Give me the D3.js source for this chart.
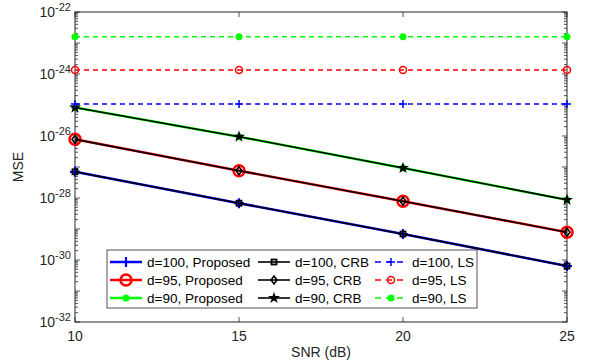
<!DOCTYPE html>
<html>
<head>
<meta charset="utf-8">
<script src="https://cdn.jsdelivr.net/npm/d3@7"></script>
<style>
  body { margin: 0; background: #fff; }
  svg { display: block; font-family: "Liberation Sans", Arial, sans-serif; }
</style>
</head>
<body>
<svg id="chart" width="590" height="364"></svg>
<script>
// values
const snr = [10, 15, 20, 25];
const proposed100 = [7.0e-28, 6.8e-29, 6.9e-30, 6.4e-31];
const proposed95 = [7.8e-27, 7.6e-28, 7.9e-29, 7.9e-30];
const proposed90 = [8.3e-26, 9.5e-27, 9.3e-28, 8.7e-29];
const crb100 = [7.0e-28, 6.8e-29, 6.9e-30, 6.4e-31];
const crb95 = [7.8e-27, 7.6e-28, 7.9e-29, 7.9e-30];
const crb90 = [8.3e-26, 9.5e-27, 9.3e-28, 8.7e-29];
const ls100 = [1.07e-25, 1.07e-25, 1.07e-25, 1.07e-25];
const ls95 = [1.35e-24, 1.35e-24, 1.35e-24, 1.35e-24];
const ls90 = [1.6e-23, 1.6e-23, 1.6e-23, 1.6e-23];
const yExponents = [-22, -24, -26, -28, -30, -32];
const xTicks = [10, 15, 20, 25];

const series = [
  {name: 'd=100, Proposed', values: proposed100, color: '#0000ff', dash: null, marker: 'plus', width: 2.5},
  {name: 'd=95, Proposed', values: proposed95, color: '#ff0000', dash: null, marker: 'circleBig', width: 2.5},
  {name: 'd=90, Proposed', values: proposed90, color: '#00ff00', dash: null, marker: 'dot', width: 2.5},
  {name: 'd=100, CRB', values: crb100, color: '#000000', dash: null, marker: 'square', width: 1.6},
  {name: 'd=95, CRB', values: crb95, color: '#000000', dash: null, marker: 'diamond', width: 1.6},
  {name: 'd=90, CRB', values: crb90, color: '#000000', dash: null, marker: 'star', width: 1.6},
  {name: 'd=100, LS', values: ls100, color: '#0000ff', dash: '5,4', marker: 'plusSmall', width: 1.5},
  {name: 'd=95, LS', values: ls95, color: '#ff0000', dash: '5,4', marker: 'circle', width: 1.5},
  {name: 'd=90, LS', values: ls90, color: '#00ff00', dash: '5,4', marker: 'dot', width: 1.5}
];

const margin = {top: 12, right: 23, bottom: 42, left: 75};
const width = 590, height = 364;
const svg = d3.select('#chart');

const x = d3.scaleLinear().domain([10, 25]).range([margin.left, width - margin.right]);
const y = d3.scaleLog().domain([1e-32, 1e-22]).range([height - margin.bottom, margin.top]);

const x0 = margin.left, x1 = width - margin.right, y0 = height - margin.bottom, y1 = margin.top;

// axes frame
svg.append('rect')
  .attr('x', x0).attr('y', y1)
  .attr('width', x1 - x0).attr('height', y0 - y1)
  .attr('fill', 'white').attr('stroke', '#262626').attr('stroke-width', 1);

// y ticks: major each decade, minor 2..9
const axisG = svg.append('g').attr('stroke', '#262626').attr('stroke-width', 0.8);
for (let e = -32; e <= -22; e++) {
  const v = Math.pow(10, e);
  const yy = y(v);
  axisG.append('line').attr('x1', x0).attr('x2', x0 + 5).attr('y1', yy).attr('y2', yy);
  axisG.append('line').attr('x1', x1).attr('x2', x1 - 5).attr('y1', yy).attr('y2', yy);
  if (e < -22) {
    for (let m = 2; m <= 9; m++) {
      const ym = y(m * v);
      axisG.append('line').attr('x1', x0).attr('x2', x0 + 3).attr('y1', ym).attr('y2', ym);
      axisG.append('line').attr('x1', x1).attr('x2', x1 - 3).attr('y1', ym).attr('y2', ym);
    }
  }
}
// x ticks
xTicks.forEach(t => {
  axisG.append('line').attr('x1', x(t)).attr('x2', x(t)).attr('y1', y0).attr('y2', y0 - 5);
  axisG.append('line').attr('x1', x(t)).attr('x2', x(t)).attr('y1', y1).attr('y2', y1 + 5);
});

// tick labels
const labelG = svg.append('g').attr('fill', '#262626').attr('font-size', 14);
yExponents.forEach(e => {
  const t = labelG.append('text')
    .attr('x', x0 - 4).attr('y', y(Math.pow(10, e)) + 5)
    .attr('text-anchor', 'end');
  t.append('tspan').text('10');
  t.append('tspan').attr('dy', -6).attr('font-size', 11).text(String(e));
});
xTicks.forEach(t => {
  labelG.append('text')
    .attr('x', x(t)).attr('y', y0 + 19)
    .attr('text-anchor', 'middle')
    .text(t);
});
labelG.append('text')
  .attr('x', (x0 + x1) / 2).attr('y', height - 7)
  .attr('text-anchor', 'middle')
  .text('SNR (dB)');
labelG.append('text')
  .attr('transform', `translate(23,${(y0 + y1) / 2}) rotate(-90)`)
  .attr('text-anchor', 'middle')
  .text('MSE');

// markers
function drawMarker(g, type, cx, cy, color) {
  switch (type) {
    case 'plus':
      g.append('path').attr('d', `M${cx - 5},${cy}H${cx + 5}M${cx},${cy - 5}V${cy + 5}`)
        .attr('stroke', color).attr('stroke-width', 2.2).attr('fill', 'none');
      break;
    case 'plusSmall':
      g.append('path').attr('d', `M${cx - 4},${cy}H${cx + 4}M${cx},${cy - 4}V${cy + 4}`)
        .attr('stroke', color).attr('stroke-width', 1.5).attr('fill', 'none');
      break;
    case 'circleBig':
      g.append('circle').attr('cx', cx).attr('cy', cy).attr('r', 5.5)
        .attr('stroke', color).attr('stroke-width', 2.5).attr('fill', 'none');
      break;
    case 'circle':
      g.append('circle').attr('cx', cx).attr('cy', cy).attr('r', 3.5)
        .attr('stroke', color).attr('stroke-width', 1.5).attr('fill', 'none');
      break;
    case 'dot':
      g.append('circle').attr('cx', cx).attr('cy', cy).attr('r', 3.5)
        .attr('fill', color);
      break;
    case 'square':
      g.append('rect').attr('x', cx - 2.5).attr('y', cy - 2.5).attr('width', 5).attr('height', 5)
        .attr('stroke', color).attr('stroke-width', 1.8).attr('fill', 'none');
      break;
    case 'diamond':
      g.append('path').attr('d', `M${cx},${cy - 4}L${cx + 3},${cy}L${cx},${cy + 4}L${cx - 3},${cy}Z`)
        .attr('stroke', color).attr('stroke-width', 1.6).attr('fill', 'none');
      break;
    case 'star':
      g.append('path').attr('d', d3.symbol(d3.symbolStar, 45)())
        .attr('transform', `translate(${cx},${cy})`)
        .attr('fill', color);
      break;
  }
}

const line = d3.line().x(d => x(d[0])).y(d => y(d[1]));
const plotG = svg.append('g');
series.forEach(s => {
  const pts = snr.map((v, i) => [v, s.values[i]]);
  const g = plotG.append('g');
  g.append('path')
    .attr('d', line(pts))
    .attr('fill', 'none')
    .attr('stroke', s.color)
    .attr('stroke-width', s.width)
    .attr('stroke-dasharray', s.dash);
  pts.forEach(p => drawMarker(g, s.marker, x(p[0]), y(p[1]), s.color));
});

// legend
const lg = svg.append('g');
const legX = 107, legY = 250, legW = 370, legH = 58;
lg.append('rect').attr('x', legX).attr('y', legY).attr('width', legW).attr('height', legH)
  .attr('fill', 'white').attr('stroke', '#262626').attr('stroke-width', 0.8);
const colX = [110, 258, 375];
const rowY = [262, 280, 298];
const order = [[0, 3, 6], [1, 4, 7], [2, 5, 8]];
order.forEach((row, r) => {
  row.forEach((idx, c) => {
    const s = series[idx];
    const lx = colX[c], ly = rowY[r];
    lg.append('line').attr('x1', lx).attr('x2', lx + 32).attr('y1', ly).attr('y2', ly)
      .attr('stroke', s.color).attr('stroke-width', s.width)
      .attr('stroke-dasharray', s.dash ? '6,5' : null);
    drawMarker(lg, s.marker, lx + 16, ly, s.color);
    lg.append('text').attr('x', lx + 37).attr('y', ly + 5)
      .attr('font-size', 13.5).attr('fill', '#000')
      .text(s.name);
  });
});
</script>
</body>
</html>
